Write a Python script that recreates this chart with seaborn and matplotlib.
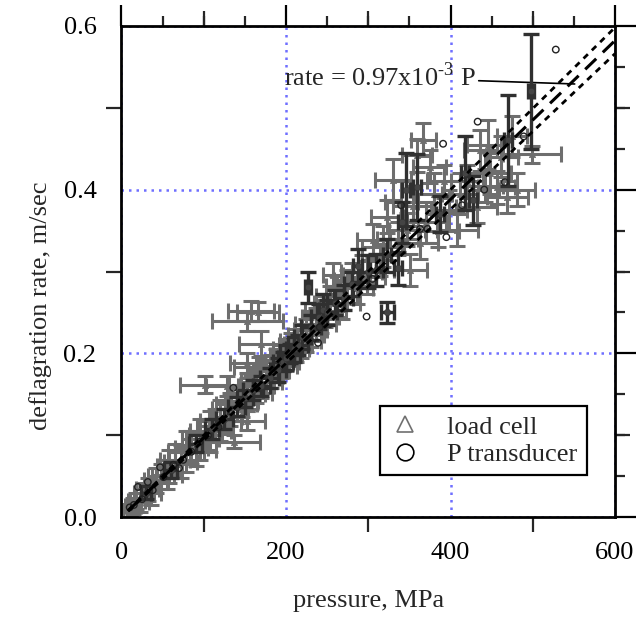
import numpy as np
import pandas as pd
import matplotlib
matplotlib.use("Agg")
import matplotlib.pyplot as plt
from matplotlib.lines import Line2D
import seaborn as sns

# load cell: pressure (MPa), deflagration rate (m/s) and error bars
lc_p = [10, 14, 18, 22, 27, 32, 36, 42, 48, 55, 58, 65, 72, 78, 85, 90, 96, 102, 108, 114, 120, 126,
        132, 140, 146, 152, 158, 164, 170, 176, 182, 188, 194, 137, 152,
        101, 128, 152, 153, 158, 166, 170, 167,
        200, 206, 212, 218, 224, 230, 236, 242, 248, 254, 257, 262, 268, 274, 280, 286, 292, 298,
        306, 314, 318, 323, 330, 336, 340, 347, 351, 355, 359, 363, 367, 370, 375, 380, 385, 392, 398, 408,
        412, 420, 432, 436, 442, 445, 448, 456, 462, 469, 475, 481, 499]
lc_rate = [.008, .014, .020, .018, .030, .034, .030, .045, .050, .052, .062, .070, .068, .080, .085, .082, .095, .100, .105, .112, .118, .122,
           .132, .138, .142, .150, .152, .160, .165, .172, .178, .185, .190, .092, .118,
           .162, .160, .188, .239, .252, .251, .212, .184,
           .198, .205, .210, .215, .222, .228, .236, .245, .252, .262, .296, .270, .262, .282, .290, .280, .300, .293,
           .338, .314, .330, .367, .412, .340, .385, .351, .302, .380, .442, .335, .461, .360, .428, .395, .350, .410, .375, .351,
           .395, .410, .379, .448, .405, .455, .420, .403, .440, .391, .465, .400, .443]
lc_perr = [8, 10, 10, 12, 12, 14, 12, 15, 16, 18, 15, 18, 20, 22, 20, 25, 22, 20, 25, 22, 25, 20,
           22, 25, 20, 22, 25, 22, 25, 20, 22, 25, 22, 32, 22,
           30, 25, 20, 43, 28, 26, 27, 30,
           20, 22, 20, 25, 22, 20, 25, 22, 25, 20, 12, 25, 22, 25, 22, 20, 25, 22,
           20, 22, 25, 20, 22, 25, 20, 22, 20, 25, 18, 22, 15, 25, 20, 22, 25, 20, 22, 25,
           22, 20, 25, 20, 22, 25, 25, 22, 20, 25, 18, 22, 35]
lc_rerr = [.008, .010, .010, .012, .012, .014, .015, .015, .015, .018, .020, .020, .020, .025, .020, .020, .025, .020, .025, .020, .025, .020,
           .020, .020, .020, .020, .020, .020, .020, .020, .020, .020, .020, .008, .012,
           .010, .012, .012, .012, .012, .012, .015, .012,
           .020, .020, .020, .020, .020, .020, .020, .020, .020, .020, .015, .025, .020, .020, .020, .020, .020, .020,
           .020, .020, .025, .020, .025, .020, .025, .020, .020, .025, .020, .020, .020, .025, .020, .025, .020, .020, .025, .020,
           .025, .020, .020, .025, .020, .030, .025, .020, .025, .020, .025, .020, .010]

# P transducer with error bars
pt_p = [30, 60, 90, 110, 125, 140,
        150, 160, 170, 180, 190, 196, 200, 205, 210, 215,
        220, 227, 230, 240, 245, 250, 260, 270, 280, 287,
        300, 310, 323, 323, 336, 341, 346, 359, 387, 418,
        427, 470, 498]
pt_rate = [.030, .058, .090, .108, .120, .135,
           .145, .155, .160, .170, .180, .190, .195, .200, .205, .210,
           .220, .281, .232, .245, .253, .250, .262, .268, .285, .307,
           .300, .302, .250, .320, .304, .360, .400, .403, .370, .420,
           .387, .460, .520]
pt_perr = [6, 8, 8, 8, 10, 10,
           10, 12, 10, 12, 10, 12, 10, 12, 10, 12,
           10, 4, 12, 10, 5, 12, 10, 12, 10, 5,
           10, 8, 8, 5, 5, 5, 5, 5, 5, 5,
           5, 5, 4]
pt_rerr = [.008, .010, .010, .012, .012, .012,
           .010, .012, .012, .012, .015, .012, .015, .012, .015, .012,
           .015, .019, .015, .015, .020, .015, .015, .015, .015, .020,
           .020, .020, .013, .020, .020, .025, .045, .040, .022, .045,
           .030, .055, .070]

# P transducer points drawn as open circles only
oc_p = [10, 15, 20, 25, 32, 38, 47, 51, 63, 70, 75, 85, 95, 105, 118, 136,
        239, 241, 298, 305, 340, 363, 372, 395, 391, 414, 441, 466, 433, 489, 528]
oc_rate = [.012, .015, .037, .022, .043, .033, .061, .049, .064, .060, .070, .080, .092, .100, .110, .158,
           .213, .232, .245, .291, .381, .352, .352, .342, .456, .381, .400, .409, .483, .465, .571]

# fit: rate = 0.97e-3 P, with band half-widths
slope = 0.97e-3
fit_p = [8, 100, 200, 300, 400, 500, 600]
fit_band = [0.0005, 0.003, 0.006, 0.009, 0.012, 0.014, 0.016]

lc = pd.DataFrame({"p": lc_p, "rate": lc_rate, "perr": lc_perr, "rerr": lc_rerr})
pt = pd.DataFrame({"p": pt_p, "rate": pt_rate, "perr": pt_perr, "rerr": pt_rerr})
oc = pd.DataFrame({"p": oc_p, "rate": oc_rate})
fit = pd.DataFrame({"p": fit_p, "band": fit_band})
fit["rate"] = slope * fit["p"]
fit["upper"] = fit["rate"] + fit["band"]
fit["lower"] = fit["rate"] - fit["band"]

sns.set_theme(style="white")
plt.rcParams["font.family"] = ["Liberation Serif", "DejaVu Serif"]
plt.rcParams["mathtext.fontset"] = "custom"
plt.rcParams["mathtext.rm"] = "Liberation Serif"

gray = "#6e6e6e"
dark = "#303030"

fig = plt.figure(figsize=(6.36, 6.30), dpi=100)
ax = fig.add_axes([0.191, 0.179, 0.776, 0.780])

ax.errorbar(lc["p"], lc["rate"], xerr=lc["perr"], yerr=lc["rerr"], fmt="none",
            ecolor=gray, elinewidth=2.2, capsize=6, capthick=2.2, zorder=2)
sns.scatterplot(data=lc, x="p", y="rate", marker="^", s=22, color=gray,
                edgecolor=gray, ax=ax, zorder=3, legend=False)
ax.errorbar(pt["p"], pt["rate"], xerr=pt["perr"], yerr=pt["rerr"], fmt="none",
            ecolor=dark, elinewidth=2.4, capsize=6, capthick=2.4, zorder=4)
sns.scatterplot(data=pt, x="p", y="rate", marker="o", s=22, color="#444444",
                edgecolor=dark, ax=ax, zorder=5, legend=False)
sns.scatterplot(data=oc, x="p", y="rate", marker="o", s=22, facecolor="none",
                edgecolor="#222222", linewidth=1.0, ax=ax, zorder=5, legend=False)

sns.lineplot(data=fit, x="p", y="rate", color="black", lw=2.2,
             linestyle=(0, (5, 3)), ax=ax, zorder=6)
sns.lineplot(data=fit, x="p", y="upper", color="black", lw=2.0,
             linestyle=(0, (2.2, 2)), ax=ax, zorder=6)
sns.lineplot(data=fit, x="p", y="lower", color="black", lw=2.0,
             linestyle=(0, (2.2, 2)), ax=ax, zorder=6)

ax.annotate(r"rate = 0.97x10$^{\text{-3}}$ P", xy=(551, 0.529), xytext=(197, 0.527),
            fontsize=19, va="baseline", ha="left",
            arrowprops=dict(arrowstyle="-", color="black", lw=1.2,
                            shrinkA=0, shrinkB=0, relpos=(1.0, 0.35)))

ax.set_xlim(0, 600)
ax.set_ylim(0, 0.6)
ax.set_xticks([0, 200, 400, 600])
ax.set_yticks([0, 0.2, 0.4, 0.6])
ax.set_yticklabels(["0.0", "0.2", "0.4", "0.6"])
ax.set_xticks(np.arange(0, 601, 50), minor=True)
ax.set_yticks(np.arange(0, 0.61, 0.05), minor=True)
ax.tick_params(which="major", direction="out", length=15, width=1.6,
               top=True, right=True, labelsize=19, pad=3, colors="black")
ax.tick_params(which="minor", direction="out", length=7, width=1.6,
               top=True, right=True)

# medium-length ticks at 100 MPa / 0.1 m/s
for loc in ["bottom", "top"]:
    sec = ax.secondary_xaxis(loc)
    sec.set_xticks([100, 300, 500])
    sec.set_xticklabels([])
    sec.tick_params(direction="out", length=11, width=1.6)
    for s in sec.spines.values():
        s.set_visible(False)
for loc in ["left", "right"]:
    sec = ax.secondary_yaxis(loc)
    sec.set_yticks([0.1, 0.3, 0.5])
    sec.set_yticklabels([])
    sec.tick_params(direction="out", length=11, width=1.6)
    for s in sec.spines.values():
        s.set_visible(False)

for s in ax.spines.values():
    s.set_linewidth(2.0)
    s.set_color("black")

ax.grid(True, which="major", color="#6f6fff", linestyle=(0, (1, 2)), linewidth=1.8)
ax.set_axisbelow(True)

ax.set_xlabel("pressure, MPa", fontsize=19)
ax.set_ylabel("deflagration rate, m/sec", fontsize=19)
ax.xaxis.set_label_coords(0.5, -0.148)
ax.yaxis.set_label_coords(-0.14, 0.43)

handles = [Line2D([], [], marker="^", ls="none", mfc="none", mec="#707070", ms=12, mew=1.2),
           Line2D([], [], marker="o", ls="none", mfc="none", mec="black", ms=12, mew=1.2)]
leg = ax.legend(handles, ["load cell", "P transducer"], loc="lower left",
                bbox_to_anchor=(0.524, 0.0855), fontsize=19, frameon=True,
                fancybox=False, framealpha=1, edgecolor="black",
                handlelength=1.2, handletextpad=1.0, borderaxespad=0,
                borderpad=0.35, labelspacing=0.15)
leg.get_frame().set_linewidth(1.6)

fig.savefig("out.png", dpi=100)
